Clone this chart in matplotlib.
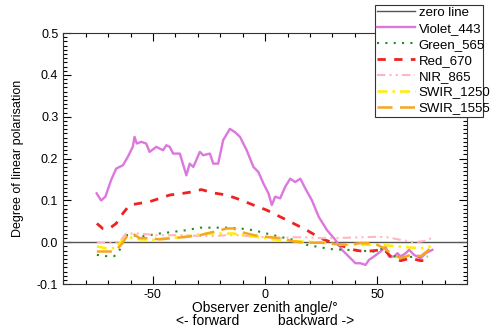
import numpy as np
import matplotlib.pyplot as plt
from matplotlib.ticker import MultipleLocator
from matplotlib.patches import Rectangle

plt.rcParams['font.family'] = ['Liberation Sans', 'DejaVu Sans']
plt.rcParams['axes.unicode_minus'] = False

# Violet_443
violet_x = [-75.1, -73.1, -71.2, -68.7, -66.4, -63.4, -61.2, -59, -58.2, -57.2, -55.2, -53, -51.5,
            -48.5, -45.5, -44, -42.5, -41, -38, -35.1, -33.6, -32, -29.1, -27.6, -24.6, -23.1, -20.9,
            -18.7, -15.7, -13.4, -11.2, -8.2, -5.2, -3, -0.7, 1.5, 3, 4.5, 6.7, 9, 11.2, 13.4, 15.7,
            17.9, 20.9, 23.9, 27.6, 31.3, 34.3, 37.3, 40.3, 42.5, 44.8, 46.3, 48.5, 51.5, 53.7, 55.2,
            57.5, 59, 60.4, 62.7, 64.2, 66.4, 69.4, 71.6, 74.6]
violet_y = [0.117, 0.10, 0.109, 0.148, 0.176, 0.184, 0.204, 0.228, 0.252, 0.236, 0.24, 0.236, 0.216,
            0.228, 0.22, 0.232, 0.228, 0.212, 0.212, 0.16, 0.188, 0.18, 0.216, 0.208, 0.212, 0.188, 0.188,
            0.244, 0.271, 0.263, 0.252, 0.22, 0.18, 0.168, 0.14, 0.117, 0.089, 0.109, 0.105, 0.133, 0.152,
            0.144, 0.152, 0.129, 0.10, 0.061, 0.029, 0.006, -0.018, -0.034, -0.05, -0.05, -0.054, -0.042,
            -0.034, -0.022, -0.01, -0.034, -0.034, -0.026, -0.034, -0.026, -0.018, -0.03, -0.038, -0.026,
            -0.018]

# Green_565
green_x = [-75, -70.9, -67.2, -64.2, -61.9, -59, -56, -51.5, -47, -41, -35, -29, -23, -17, -11, -5.2,
           0.7, 6.7, 12.7, 18.6, 24.6, 30.6, 36.6, 42.5, 48.5, 53, 56, 60.4, 66.4, 72.4]
green_y = [-0.03, -0.033, -0.033, -0.014, 0.017, 0.017, 0.013, 0.017, 0.021, 0.025, 0.029, 0.035, 0.035,
           0.035, 0.033, 0.029, 0.021, 0.013, 0.006, -0.006, -0.012, -0.017, -0.018, -0.02, -0.022,
           -0.014, -0.03, -0.038, -0.034, -0.034]

# Red_670
red_x = [-75, -72.4, -69.4, -66.4, -63.4, -60.4, -56, -51.5, -47, -42.5, -36.6, -32, -28.4, -23.1,
         -17.2, -11.2, -5.2, 0.7, 6.7, 12.7, 18.6, 24.6, 30.6, 35.1, 39.6, 44, 48.5, 53, 56, 60.4,
         64.9, 69.4, 73.9]
red_y = [0.045, 0.033, 0.033, 0.045, 0.069, 0.089, 0.093, 0.097, 0.105, 0.113, 0.117, 0.121, 0.126,
         0.118, 0.113, 0.102, 0.089, 0.077, 0.061, 0.045, 0.029, 0.01, -0.002, -0.01, -0.018, -0.022,
         -0.02, -0.017, -0.034, -0.044, -0.038, -0.044, -0.042]

# NIR_865
nir_x = [-75, -69.4, -64.9, -61.9, -56, -48.5, -41, -35, -29, -23, -17, -11, -5, 0.7, 6.7, 12.7,
         18.6, 24.6, 30.6, 36.6, 42.5, 48.5, 54.5, 60.4, 66.4, 72.4, 73.9]
nir_y = [0.0, -0.002, 0.002, 0.021, 0.021, 0.017, 0.017, 0.017, 0.015, 0.015, 0.017, 0.017, 0.013,
         0.012, 0.01, 0.012, 0.012, 0.01, 0.01, 0.011, 0.012, 0.013, 0.012, 0.006, 0.0, 0.004, 0.01]

# SWIR_1250
swir1250_x = [-75, -70.9, -67.2, -64.2, -61.2, -56, -50, -44, -38, -32, -26, -20, -14, -8, -2, 3.7,
              9.7, 15.7, 21.6, 27.6, 33.6, 39.6, 45.5, 51.5, 57.5, 63.4, 69.4, 73.9]
swir1250_y = [-0.01, -0.014, -0.014, 0.002, 0.013, 0.007, 0.006, 0.01, 0.012, 0.017, 0.021, 0.021,
              0.021, 0.015, 0.012, 0.007, 0.004, 0.002, 0.001, -0.002, -0.006, -0.006, -0.006, -0.006,
              -0.009, -0.012, -0.014, -0.01]

# SWIR_1555
swir1555_x = [-75, -70.9, -67.2, -64.2, -61.2, -59, -56, -51.5, -47, -41, -35, -29, -23, -17, -14,
              -11, -5, 0.7, 6.7, 12.7, 18.6, 24.6, 30.6, 36.6, 42.5, 48.5, 53, 56, 60.4, 64.9, 69.4,
              73.9]
swir1555_y = [-0.022, -0.022, -0.022, -0.006, 0.017, 0.021, 0.01, 0.01, 0.007, 0.01, 0.013, 0.017,
              0.025, 0.033, 0.033, 0.025, 0.017, 0.013, 0.01, 0.002, -0.001, -0.001, -0.004, -0.006,
              -0.002, -0.002, -0.014, -0.026, -0.038, -0.03, -0.033, -0.014]

fig = plt.figure(figsize=(4.9, 3.27), dpi=100)
ax = fig.add_axes([0.129, 0.131, 0.824, 0.768])

ax.plot([-90, 90], [0, 0], color='#555555', lw=1.0, label='zero line')
ax.plot(violet_x, violet_y, color='#dd77dd', lw=1.7, label='Violet_443')
ax.plot(green_x, green_y, color='#228b22', lw=1.5, ls=(0, (1, 3)), label='Green_565')
ax.plot(red_x, red_y, color='#ee2222', lw=2.0, ls=(0, (3, 3)), label='Red_670')
ax.plot(nir_x, nir_y, color='#ffb6c1', lw=1.5, ls=(0, (4, 2, 1, 2, 1, 2)), label='NIR_865')
ax.plot(swir1250_x, swir1250_y, color='#ffee00', lw=1.8, ls=(0, (4, 2, 1, 2)), label='SWIR_1250')
ax.plot(swir1555_x, swir1555_y, color='#f5a623', lw=1.8, ls=(0, (6, 3)), label='SWIR_1555')

ax.set_xlim(-90, 90)
ax.set_ylim(-0.1, 0.5)
ax.xaxis.set_major_locator(MultipleLocator(50))
ax.xaxis.set_minor_locator(MultipleLocator(10))
ax.yaxis.set_major_locator(MultipleLocator(0.1))
ax.yaxis.set_minor_locator(MultipleLocator(0.01))
ax.yaxis.set_major_formatter(plt.FuncFormatter(lambda v, p: '%.1f' % v))
ax.tick_params(which='both', direction='in', top=True, right=True, labelsize=9, width=0.8)
ax.tick_params(which='major', length=6)
ax.tick_params(which='minor', length=3)
for s in ax.spines.values():
    s.set_linewidth(0.8)
    s.set_color('#333333')

ax.set_xlabel('Observer zenith angle/\u00b0\n<- forward          backward ->', fontsize=10, labelpad=0,
              linespacing=0.9)
ax.set_ylabel('Degree of linear polarisation', fontsize=9, labelpad=9)

# legend box sits partly outside the axes, text runs past its right edge
box = Rectangle((375 / 490, 1 - 117 / 327), 108 / 490, 112 / 327, transform=fig.transFigure,
                facecolor='white', edgecolor='#333333', lw=0.8, zorder=4)
fig.patches.append(box)
leg = fig.legend(loc='upper left', bbox_to_anchor=(374 / 490, 1 - 4 / 327), fontsize=9.5, frameon=False,
                 handlelength=2.9, handletextpad=0.3, borderpad=0.2, labelspacing=0.28, borderaxespad=0)
leg.set_zorder(5)

fig.savefig('out.png', dpi=100)
